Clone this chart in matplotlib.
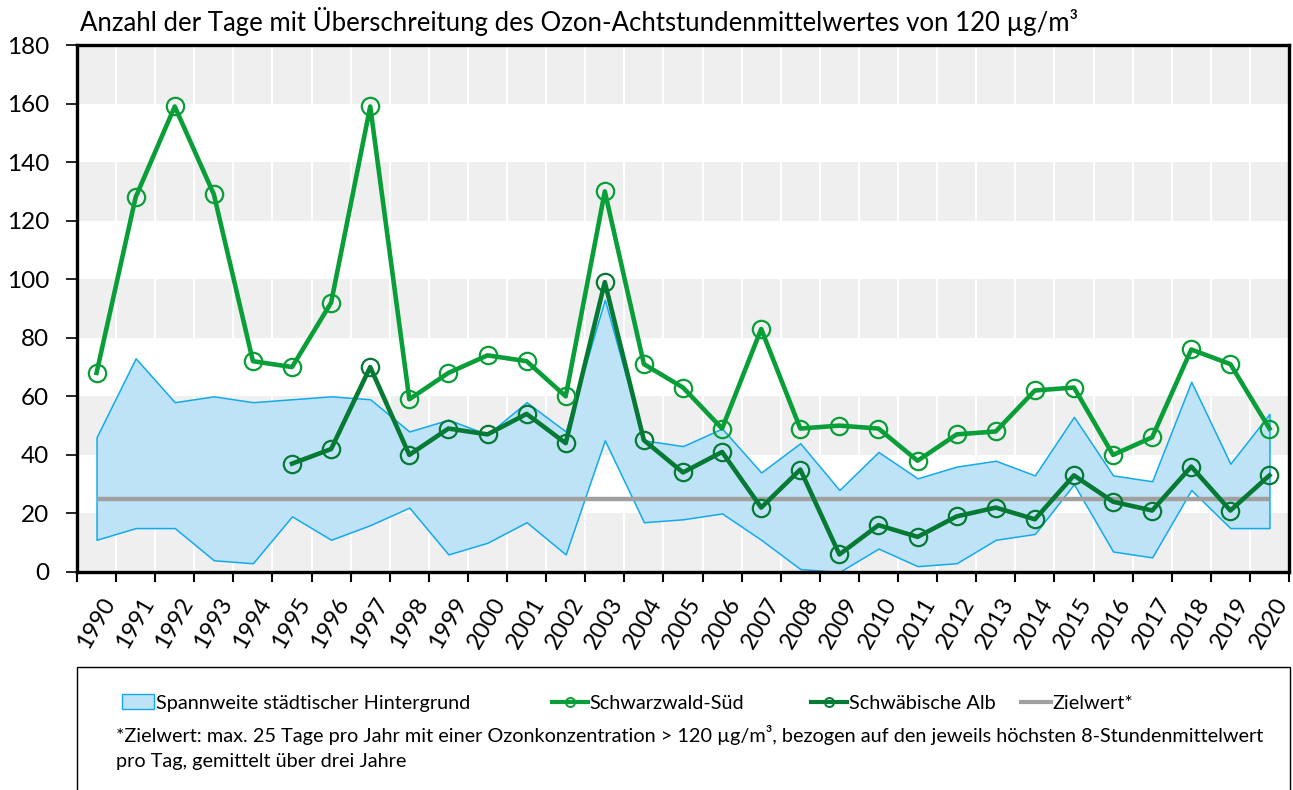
import numpy as np
import matplotlib
matplotlib.use("Agg")
import matplotlib.pyplot as plt
import matplotlib.transforms as mtrans
from matplotlib.patches import Patch, Rectangle
from matplotlib.lines import Line2D

plt.rcParams['font.family'] = ['Lato', 'DejaVu Sans']

years = list(range(1990, 2021))
schwarzwald_sued = [68, 128, 159, 129, 72, 70, 92, 159, 59, 68,
                    74, 72, 60, 130, 71, 63, 49, 83, 49, 50,
                    49, 38, 47, 48, 62, 63, 40, 46, 76, 71, 49]
schwaeb_alb = [np.nan] * 5 + [37, 42, 70, 40, 49,
                              47, 54, 44, 99, 45, 34, 41, 22, 35, 6,
                              16, 12, 19, 22, 18, 33, 24, 21, 36, 21, 33]
band_upper = [46, 73, 58, 60, 58, 59, 60, 59, 48, 52,
              47, 58, 48, 93, 45, 43, 49, 34, 44, 28,
              41, 32, 36, 38, 33, 53, 33, 31, 65, 37, 54]
band_lower = [11, 15, 15, 4, 3, 19, 11, 16, 22, 6,
              10, 17, 6, 45, 17, 18, 20, 11, 1, 0,
              8, 2, 3, 11, 13, 30, 7, 5, 28, 15, 15]
zielwert = 25

title = "Anzahl der Tage mit Überschreitung des Ozon-Achtstundenmittelwertes von 120 µg/m³"
legend_labels = ["Spannweite städtischer Hintergrund", "Schwarzwald-Süd",
                 "Schwäbische Alb", "Zielwert*"]
footnote1 = ("*Zielwert: max. 25 Tage pro Jahr mit einer Ozonkonzentration > 120 µg/m³, "
             "bezogen auf den jeweils höchsten 8-Stundenmittelwert")
footnote2 = "pro Tag, gemittelt über drei Jahre"

c_sued = "#0a9e38"
c_alb = "#067a35"
c_band = "#bfe3f6"
c_band_edge = "#13aaea"
c_ziel = "#a0a0a0"

x = np.arange(len(years))

fig = plt.figure(figsize=(12.93, 7.90), dpi=100)
ax = fig.add_axes([77 / 1293, 1 - 572 / 790, 1212 / 1293, 527 / 790])

# background bands
for y0 in range(0, 180, 40):
    ax.axhspan(y0, y0 + 20, color="#efefef", lw=0, zorder=0)
for b in np.arange(-0.5, len(years), 1):
    ax.axvline(b, color="white", lw=1.5, zorder=0.5)

ax.fill_between(x, band_lower, band_upper, facecolor=c_band, edgecolor=c_band_edge,
                lw=1.1, zorder=1)
ax.plot(x, [zielwert] * len(x), color=c_ziel, lw=3.2, zorder=2, solid_capstyle='butt')
ax.plot(x, schwaeb_alb, color=c_alb, lw=3.3, marker='o', ms=12.5, mfc='none',
        mec=c_alb, mew=1.6, zorder=3)
ax.plot(x, schwarzwald_sued, color=c_sued, lw=3.3, marker='o', ms=12.5, mfc='none',
        mec=c_sued, mew=1.6, zorder=4)

ax.set_xlim(-0.5, len(years) - 0.5)
ax.set_ylim(0, 180)
ax.set_yticks(range(0, 181, 20))
ax.set_xticks(x)
ax.set_xticklabels([str(y) for y in years], rotation=60, ha='right', va='top',
                   rotation_mode='anchor', fontsize=17)
ax.set_xticks(np.arange(-0.5, len(years), 1), minor=True)
ax.tick_params(axis='x', which='major', length=0, pad=16)
ax.tick_params(axis='x', which='minor', length=7, width=1.5, direction='out')
ax.tick_params(axis='y', length=8, width=1.2, labelsize=17.5, pad=12)
shift = mtrans.ScaledTranslation(4 / 100, 0, fig.dpi_scale_trans)
for lbl in ax.get_xticklabels():
    lbl.set_transform(lbl.get_transform() + shift)
for s in ax.spines.values():
    s.set_linewidth(2.4)

fig.text(80 / 1293, 1 - 21 / 790, title, fontsize=18.5, va='center', ha='left')

# legend frame
fig.patches.append(Rectangle((77 / 1293, -0.01), 1213 / 1293, 0.01 + 1 - 667 / 790,
                             transform=fig.transFigure, fill=False, ec="black", lw=1.0))

handles = [
    Patch(facecolor=c_band, edgecolor=c_band_edge, lw=1),
    Line2D([], [], color=c_sued, lw=3, marker='o', ms=6.5, mfc='none', mec=c_sued, mew=1.4),
    Line2D([], [], color=c_alb, lw=3, marker='o', ms=6.5, mfc='none', mec=c_alb, mew=1.4),
    Line2D([], [], color=c_ziel, lw=3),
]
xpos = [122, 552, 811, 1021]
hl = [1.6, 1.8, 1.8, 1.5]
for h, lab, xp, l in zip(handles, legend_labels, xpos, hl):
    fig.legend([h], [lab], loc='center left', bbox_to_anchor=(xp / 1293, 1 - 703 / 790),
               frameon=False, fontsize=14.3, handlelength=l, handletextpad=0.1,
               handleheight=0.75, borderaxespad=0, borderpad=0)

fig.text(116 / 1293, 1 - 735 / 790, footnote1, fontsize=14.3, va='center', ha='left')
fig.text(116 / 1293, 1 - 762 / 790, footnote2, fontsize=14.3, va='center', ha='left')

fig.savefig("out.png", dpi=100)
